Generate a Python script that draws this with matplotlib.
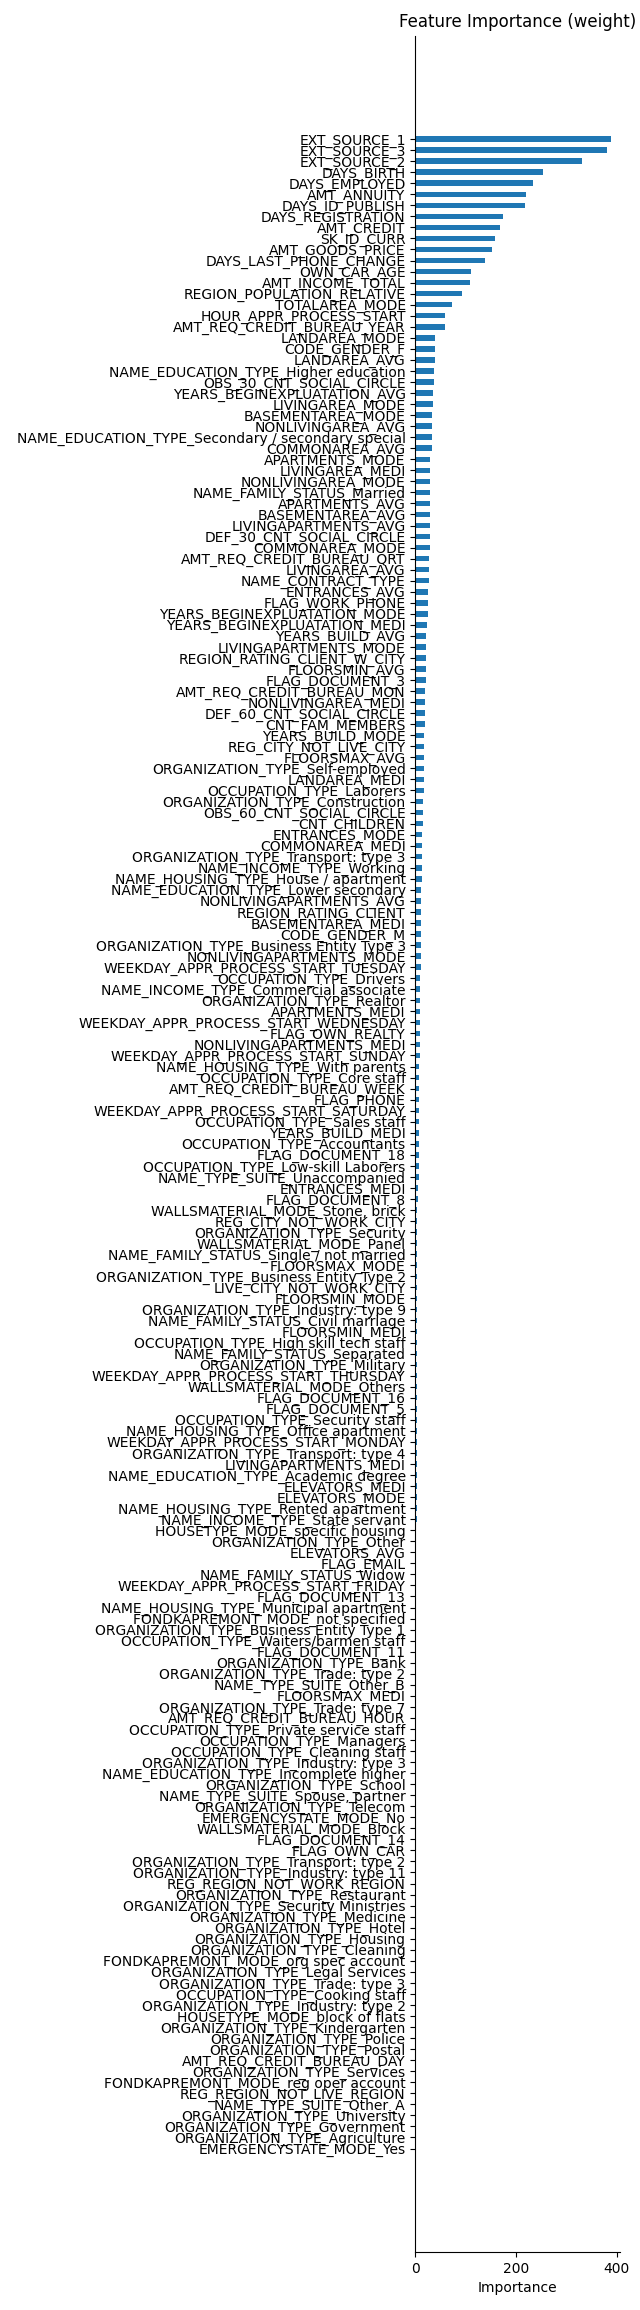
import matplotlib
matplotlib.use("Agg")
import matplotlib.pyplot as plt
import numpy as np

features = [
    "EXT_SOURCE_1", "EXT_SOURCE_3", "EXT_SOURCE_2", "DAYS_BIRTH", "DAYS_EMPLOYED",
    "AMT_ANNUITY", "DAYS_ID_PUBLISH", "DAYS_REGISTRATION", "AMT_CREDIT", "SK_ID_CURR",
    "AMT_GOODS_PRICE", "DAYS_LAST_PHONE_CHANGE", "OWN_CAR_AGE", "AMT_INCOME_TOTAL",
    "REGION_POPULATION_RELATIVE", "TOTALAREA_MODE",
    "HOUR_APPR_PROCESS_START", "AMT_REQ_CREDIT_BUREAU_YEAR", "LANDAREA_MODE", "CODE_GENDER_F",
    "LANDAREA_AVG", "NAME_EDUCATION_TYPE_Higher education", "OBS_30_CNT_SOCIAL_CIRCLE",
    "YEARS_BEGINEXPLUATATION_AVG", "LIVINGAREA_MODE", "BASEMENTAREA_MODE", "NONLIVINGAREA_AVG",
    "NAME_EDUCATION_TYPE_Secondary / secondary special", "COMMONAREA_AVG", "APARTMENTS_MODE",
    "LIVINGAREA_MEDI", "NONLIVINGAREA_MODE",
    "NAME_FAMILY_STATUS_Married", "APARTMENTS_AVG", "BASEMENTAREA_AVG", "LIVINGAPARTMENTS_AVG",
    "DEF_30_CNT_SOCIAL_CIRCLE", "COMMONAREA_MODE", "AMT_REQ_CREDIT_BUREAU_QRT", "LIVINGAREA_AVG",
    "NAME_CONTRACT_TYPE", "ENTRANCES_AVG", "FLAG_WORK_PHONE", "YEARS_BEGINEXPLUATATION_MODE",
    "YEARS_BEGINEXPLUATATION_MEDI", "YEARS_BUILD_AVG", "LIVINGAPARTMENTS_MODE",
    "REGION_RATING_CLIENT_W_CITY", "FLOORSMIN_AVG", "FLAG_DOCUMENT_3", "AMT_REQ_CREDIT_BUREAU_MON",
    "NONLIVINGAREA_MEDI", "DEF_60_CNT_SOCIAL_CIRCLE", "CNT_FAM_MEMBERS", "YEARS_BUILD_MODE",
    "REG_CITY_NOT_LIVE_CITY", "FLOORSMAX_AVG", "ORGANIZATION_TYPE_Self-employed", "LANDAREA_MEDI",
    "OCCUPATION_TYPE_Laborers", "ORGANIZATION_TYPE_Construction", "OBS_60_CNT_SOCIAL_CIRCLE",
    "CNT_CHILDREN",
    "ENTRANCES_MODE", "COMMONAREA_MEDI", "ORGANIZATION_TYPE_Transport: type 3",
    "NAME_INCOME_TYPE_Working", "NAME_HOUSING_TYPE_House / apartment",
    "NAME_EDUCATION_TYPE_Lower secondary", "NONLIVINGAPARTMENTS_AVG", "REGION_RATING_CLIENT",
    "BASEMENTAREA_MEDI", "CODE_GENDER_M", "ORGANIZATION_TYPE_Business Entity Type 3",
    "NONLIVINGAPARTMENTS_MODE", "WEEKDAY_APPR_PROCESS_START_TUESDAY", "OCCUPATION_TYPE_Drivers",
    "NAME_INCOME_TYPE_Commercial associate", "ORGANIZATION_TYPE_Realtor",
    "APARTMENTS_MEDI", "WEEKDAY_APPR_PROCESS_START_WEDNESDAY", "FLAG_OWN_REALTY",
    "NONLIVINGAPARTMENTS_MEDI", "WEEKDAY_APPR_PROCESS_START_SUNDAY", "NAME_HOUSING_TYPE_With parents",
    "OCCUPATION_TYPE_Core staff", "AMT_REQ_CREDIT_BUREAU_WEEK", "FLAG_PHONE",
    "WEEKDAY_APPR_PROCESS_START_SATURDAY", "OCCUPATION_TYPE_Sales staff", "YEARS_BUILD_MEDI",
    "OCCUPATION_TYPE_Accountants", "FLAG_DOCUMENT_18", "OCCUPATION_TYPE_Low-skill Laborers",
    "NAME_TYPE_SUITE_Unaccompanied",
    "ENTRANCES_MEDI", "FLAG_DOCUMENT_8", "WALLSMATERIAL_MODE_Stone, brick", "REG_CITY_NOT_WORK_CITY",
    "ORGANIZATION_TYPE_Security", "WALLSMATERIAL_MODE_Panel", "NAME_FAMILY_STATUS_Single / not married",
    "FLOORSMAX_MODE", "ORGANIZATION_TYPE_Business Entity Type 2", "LIVE_CITY_NOT_WORK_CITY",
    "FLOORSMIN_MODE", "ORGANIZATION_TYPE_Industry: type 9", "NAME_FAMILY_STATUS_Civil marriage",
    "FLOORSMIN_MEDI", "OCCUPATION_TYPE_High skill tech staff", "NAME_FAMILY_STATUS_Separated",
    "ORGANIZATION_TYPE_Military", "WEEKDAY_APPR_PROCESS_START_THURSDAY", "WALLSMATERIAL_MODE_Others",
    "FLAG_DOCUMENT_16", "FLAG_DOCUMENT_5", "OCCUPATION_TYPE_Security staff",
    "NAME_HOUSING_TYPE_Office apartment", "WEEKDAY_APPR_PROCESS_START_MONDAY",
    "ORGANIZATION_TYPE_Transport: type 4", "LIVINGAPARTMENTS_MEDI",
    "NAME_EDUCATION_TYPE_Academic degree", "ELEVATORS_MEDI", "ELEVATORS_MODE",
    "NAME_HOUSING_TYPE_Rented apartment", "NAME_INCOME_TYPE_State servant",
    "HOUSETYPE_MODE_specific housing", "ORGANIZATION_TYPE_Other", "ELEVATORS_AVG", "FLAG_EMAIL",
    "NAME_FAMILY_STATUS_Widow", "WEEKDAY_APPR_PROCESS_START_FRIDAY", "FLAG_DOCUMENT_13",
    "NAME_HOUSING_TYPE_Municipal apartment", "FONDKAPREMONT_MODE_not specified",
    "ORGANIZATION_TYPE_Business Entity Type 1", "OCCUPATION_TYPE_Waiters/barmen staff",
    "FLAG_DOCUMENT_11", "ORGANIZATION_TYPE_Bank", "ORGANIZATION_TYPE_Trade: type 2",
    "NAME_TYPE_SUITE_Other_B", "FLOORSMAX_MEDI",
    "ORGANIZATION_TYPE_Trade: type 7", "AMT_REQ_CREDIT_BUREAU_HOUR",
    "OCCUPATION_TYPE_Private service staff", "OCCUPATION_TYPE_Managers",
    "OCCUPATION_TYPE_Cleaning staff", "ORGANIZATION_TYPE_Industry: type 3",
    "NAME_EDUCATION_TYPE_Incomplete higher", "ORGANIZATION_TYPE_School",
    "NAME_TYPE_SUITE_Spouse, partner", "ORGANIZATION_TYPE_Telecom", "EMERGENCYSTATE_MODE_No",
    "WALLSMATERIAL_MODE_Block", "FLAG_DOCUMENT_14", "FLAG_OWN_CAR",
    "ORGANIZATION_TYPE_Transport: type 2", "ORGANIZATION_TYPE_Industry: type 11",
    "REG_REGION_NOT_WORK_REGION", "ORGANIZATION_TYPE_Restaurant",
    "ORGANIZATION_TYPE_Security Ministries", "ORGANIZATION_TYPE_Medicine", "ORGANIZATION_TYPE_Hotel",
    "ORGANIZATION_TYPE_Housing", "ORGANIZATION_TYPE_Cleaning", "FONDKAPREMONT_MODE_org spec account",
    "ORGANIZATION_TYPE_Legal Services", "ORGANIZATION_TYPE_Trade: type 3",
    "OCCUPATION_TYPE_Cooking staff", "ORGANIZATION_TYPE_Industry: type 2",
    "HOUSETYPE_MODE_block of flats", "ORGANIZATION_TYPE_Kindergarten", "ORGANIZATION_TYPE_Police",
    "ORGANIZATION_TYPE_Postal",
    "AMT_REQ_CREDIT_BUREAU_DAY", "ORGANIZATION_TYPE_Services", "FONDKAPREMONT_MODE_reg oper account",
    "REG_REGION_NOT_LIVE_REGION", "NAME_TYPE_SUITE_Other_A", "ORGANIZATION_TYPE_University",
    "ORGANIZATION_TYPE_Government", "ORGANIZATION_TYPE_Agriculture", "EMERGENCYSTATE_MODE_Yes",
]

importance = [
    388, 381, 331, 253, 233, 220, 217, 174, 168, 158, 152, 138, 110, 108, 92, 72,
    59, 59, 39, 39, 39, 37, 37, 35, 35, 33, 33, 33, 33, 30, 30, 30,
    29, 29, 29, 29, 29, 29, 27, 27, 27, 25, 25, 25, 23, 21, 21,
    21, 21, 21, 19, 19, 19, 19, 17, 17, 17, 17, 17, 17, 15, 15, 15,
    13, 13, 13, 13, 13, 11, 11, 11, 11, 11, 11, 11, 11, 9, 9, 9,
    9, 9, 9, 9, 9, 7, 7, 7, 7, 7, 7, 7, 7, 7, 7, 7,
    5, 5, 4, 4, 4, 4, 4, 4, 4, 4, 4, 4, 4, 4, 4, 4,
    3, 3, 3, 3, 3, 3, 3, 3, 3, 3, 3, 3, 3, 3, 3,
    2, 2, 2, 2, 2, 2, 2, 2, 2, 2, 2, 2, 2, 2, 2, 2,
    2, 2, 2, 2, 2, 2, 2, 2, 1, 0, 0, 0, 0, 0, 0, 0,
    0, 0, 0, 0, 0, 0, 0, 0, 0, 0, 0, 0, 0, 0, 0, 0,
    0, 0, 0, 0, 0, 0, 0, 0, 0,
]

fig = plt.figure(figsize=(6.4, 23.1), dpi=100)
ax = fig.add_axes([0.649, 0.0251, 0.9695 - 0.649, 0.9846 - 0.0251])
ypos = np.arange(len(features))
ax.barh(ypos, importance, height=0.5, color="#1f77b4")
ax.set_yticks(ypos)
ax.set_yticklabels(features, fontsize=10)
ax.invert_yaxis()
ax.set_xticks([0, 200, 400])
ax.set_xlabel("Importance")
ax.set_title("Feature Importance (weight)")
for s in ["top", "right"]:
    ax.spines[s].set_visible(False)
fig.savefig("out.png", dpi=100)
